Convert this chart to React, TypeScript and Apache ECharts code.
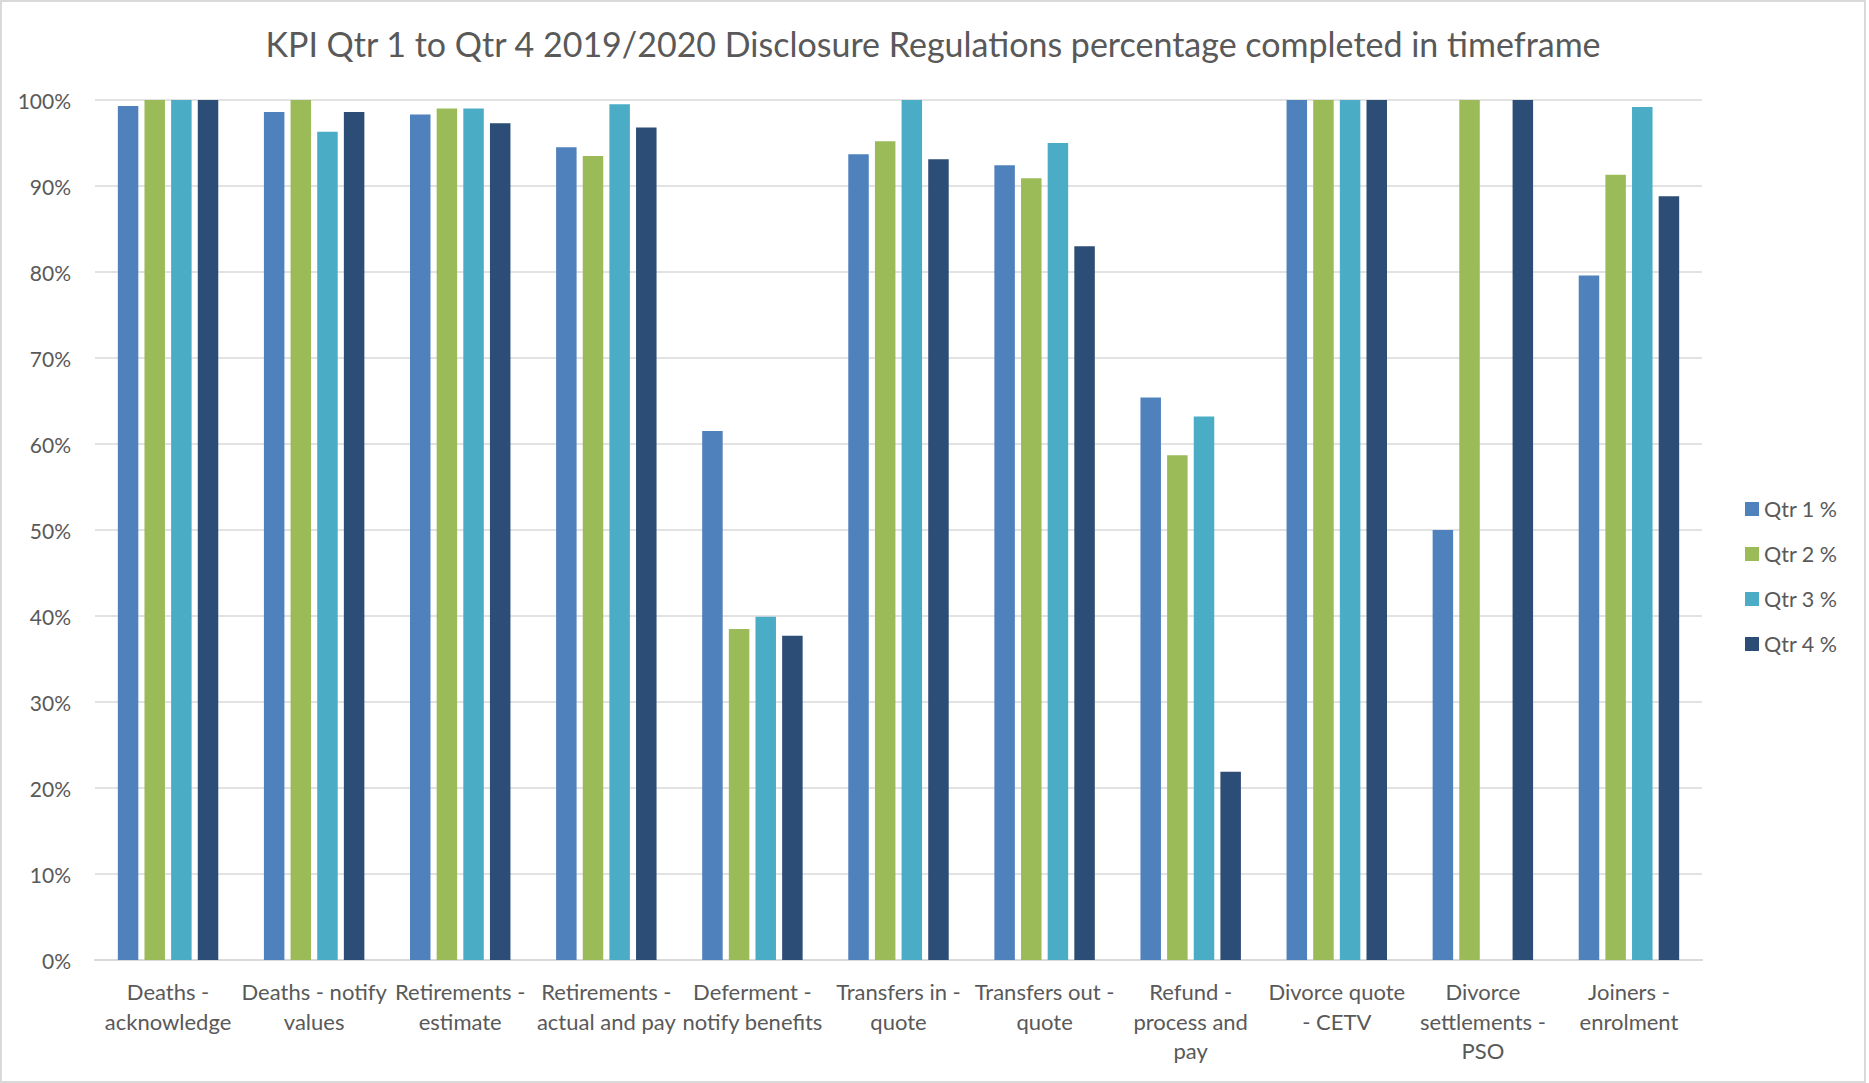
import React, { useEffect, useRef } from "react";
import * as echarts from "echarts";

const categories = [
  "Deaths -\nacknowledge",
  "Deaths - notify\nvalues",
  "Retirements -\nestimate",
  "Retirements -\nactual and pay",
  "Deferment -\nnotify benefits",
  "Transfers in -\nquote",
  "Transfers out -\nquote",
  "Refund -\nprocess and\npay",
  "Divorce quote\n- CETV",
  "Divorce\nsettlements -\nPSO",
  "Joiners -\nenrolment",
];

const seriesNames = ["Qtr 1 %", "Qtr 2 %", "Qtr 3 %", "Qtr 4 %"];
const qtr1 = [99.3, 98.6, 98.3, 94.5, 61.5, 93.7, 92.4, 65.4, 100, 50.0, 79.6];
const qtr2 = [100, 100, 99.0, 93.5, 38.5, 95.2, 90.9, 58.7, 100, 100, 91.3];
const qtr3 = [100, 96.3, 99.0, 99.5, 39.9, 100, 95.0, 63.2, 100, 0, 99.2];
const qtr4 = [100, 98.6, 97.3, 96.8, 37.7, 93.1, 83.0, 21.9, 100, 100, 88.8];
const seriesValues = [qtr1, qtr2, qtr3, qtr4];
const colors = ["#4F81BD", "#9BBB59", "#4BACC6", "#2C4D75"];

const FONT = "Lato, 'Liberation Sans', sans-serif";
const TEXT = "#595959";

export default function App() {
  const ref = useRef<HTMLDivElement>(null);
  useEffect(() => {
    document.body.style.margin = "0";
    const chart = echarts.init(ref.current!, null, { renderer: "svg" });
    chart.setOption({
      animation: false,
      backgroundColor: "#ffffff",
      textStyle: { fontFamily: FONT, color: TEXT },
      title: {
        text: "KPI Qtr 1 to Qtr 4 2019/2020 Disclosure Regulations percentage completed in timeframe",
        left: "center",
        top: 19,
        textStyle: { fontFamily: FONT, fontSize: 34, fontWeight: "normal", color: TEXT },
      },
      legend: {
        orient: "vertical",
        left: 1738,
        top: 490,
        itemWidth: 14,
        itemHeight: 14,
        itemGap: 21,
        icon: "rect",
        textStyle: { fontFamily: FONT, fontSize: 21.5, color: TEXT, lineHeight: 24 },
        data: seriesNames,
      },
      grid: { left: 93, right: 162, top: 98, bottom: 121 },
      xAxis: {
        type: "category",
        data: categories,
        axisLine: { lineStyle: { color: "#d9d9d9", width: 2 } },
        axisTick: { show: false },
        axisLabel: {
          interval: 0,
          margin: 17,
          fontFamily: FONT,
          fontSize: 22,
          lineHeight: 29.5,
          color: TEXT,
        },
      },
      yAxis: {
        type: "value",
        min: 0,
        max: 100,
        interval: 10,
        axisLine: { show: false },
        axisTick: { show: false },
        splitLine: { lineStyle: { color: "#d9d9d9", width: 1.5 } },
        axisLabel: {
          formatter: "{value}%",
          margin: 24,
          fontFamily: FONT,
          fontSize: 21,
          color: TEXT,
        },
      },
      series: seriesNames.map((name, i) => ({
        name,
        type: "bar",
        data: seriesValues[i],
        barWidth: 20.5,
        barGap: "30%",
        itemStyle: { color: colors[i] },
      })),
    });
    return () => chart.dispose();
  }, []);
  return (
    <div
      ref={ref}
      style={{
        width: 1866,
        height: 1083,
        boxSizing: "border-box",
        border: "2px solid #d9d9d9",
      }}
    />
  );
}
